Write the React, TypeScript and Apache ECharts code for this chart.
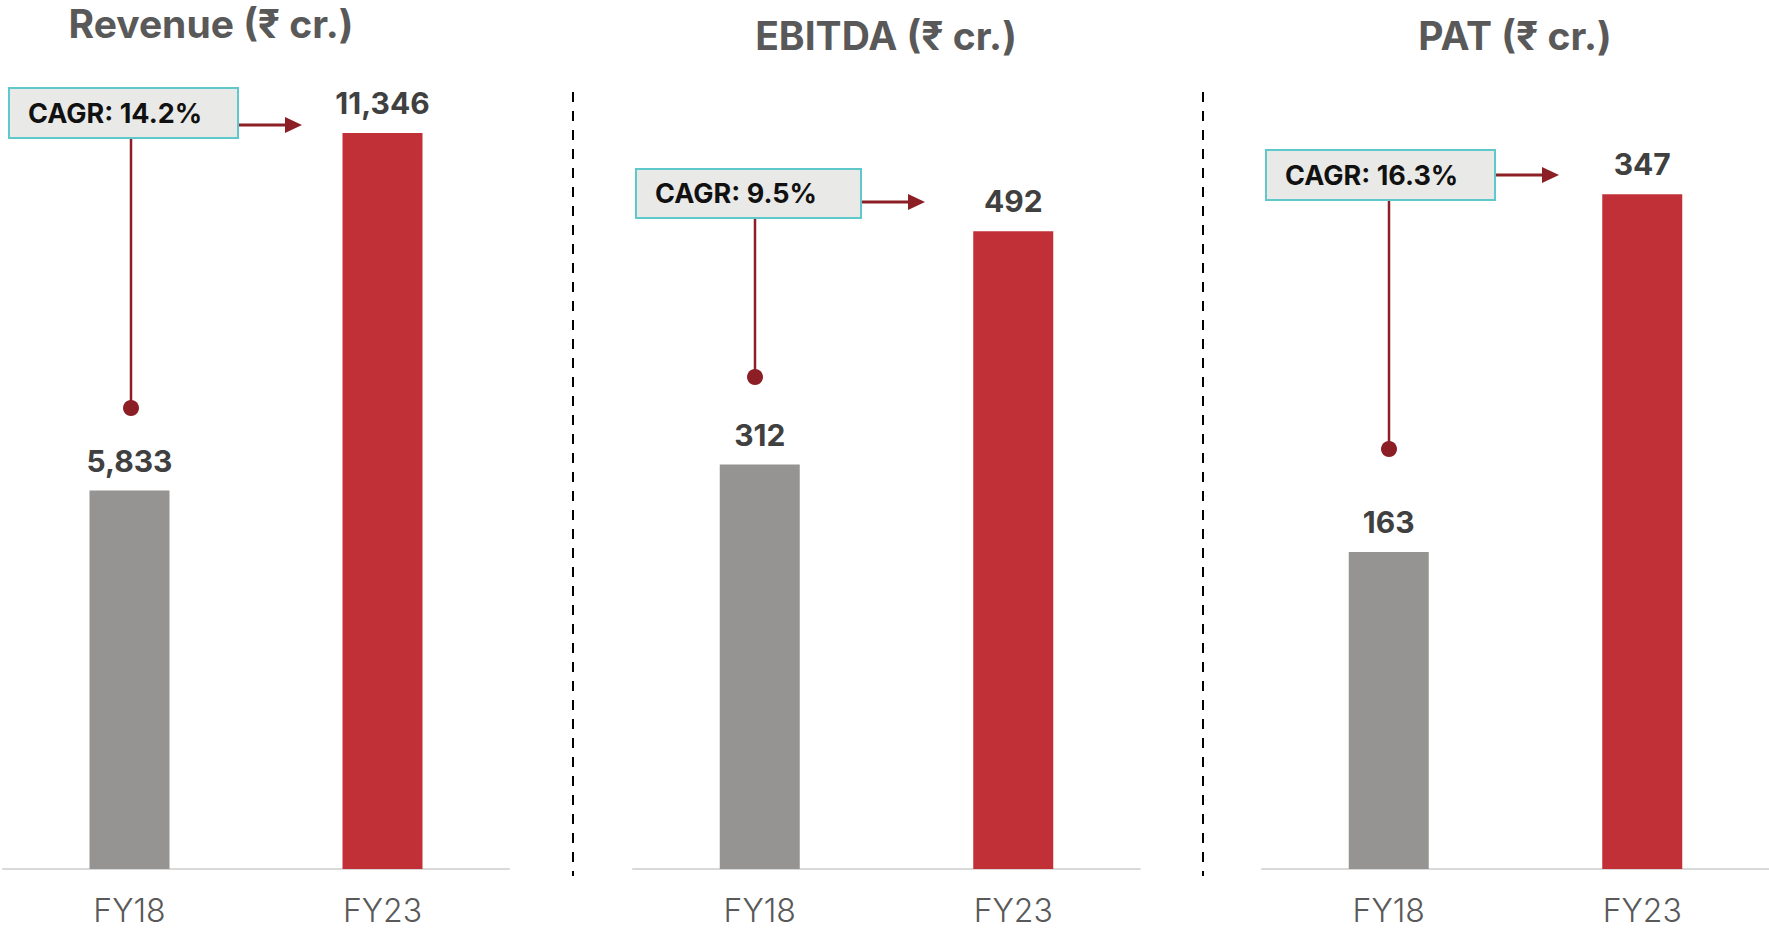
import React, { useEffect, useRef } from "react";
import * as echarts from "echarts";

// ---- data ----
const categories = ["FY18", "FY23"];
const revenueValues = [5833, 11346];
const ebitdaValues = [312, 492];
const patValues = [163, 347];
const panelTitles = ["Revenue (₹ cr.)", "EBITDA (₹ cr.)", "PAT (₹ cr.)"];
const cagrLabels = ["CAGR: 14.2%", "CAGR: 9.5%", "CAGR: 16.3%"];

// ---- styling / layout ----
const FONT = "Inter, 'Noto Sans', sans-serif";
const barColors = ["#959492", "#c13036"];
const arrowColor = "#8c1f25";
const gridLeft = [3, 633, 1262];
const gridWidth = [506, 507, 507];
const axisMax = [12470, 624, 416];
const titlePos = [
  { x: 211, y: 23 },
  { x: 886, y: 35 },
  { x: 1515, y: 35 },
];
const boxes = [
  { x: 9, y: 88, w: 229, h: 50, arrowY: 125, tipX: 302, lineX: 131, dotY: 408 },
  { x: 636, y: 169, w: 225, h: 49, arrowY: 202, tipX: 925, lineX: 755, dotY: 377 },
  { x: 1266, y: 150, w: 229, h: 50, arrowY: 175, tipX: 1559, lineX: 1389, dotY: 449 },
];
const dividerX = [573, 1203];

const seriesValues = [revenueValues, ebitdaValues, patValues];

export default function App() {
  const ref = useRef<HTMLDivElement>(null);

  useEffect(() => {
    if (!ref.current) return;
    const chart = echarts.init(ref.current, undefined, { renderer: "svg" });

    const graphics: any[] = [];
    panelTitles.forEach((t, i) => {
      graphics.push({
        type: "text",
        x: titlePos[i].x,
        y: titlePos[i].y,
        style: {
          text: t,
          align: "center",
          verticalAlign: "middle",
          fontFamily: FONT,
          fontSize: 39,
          fontWeight: "bold",
          fill: "#595959",
        },
      });
    });
    boxes.forEach((b, i) => {
      graphics.push({
        type: "line",
        shape: { x1: b.lineX, y1: b.y + b.h, x2: b.lineX, y2: b.dotY },
        style: { stroke: arrowColor, lineWidth: 2.5 },
      });
      graphics.push({
        type: "circle",
        shape: { cx: b.lineX, cy: b.dotY, r: 8 },
        style: { fill: arrowColor },
      });
      graphics.push({
        type: "line",
        shape: { x1: b.x + b.w, y1: b.arrowY, x2: b.tipX - 14, y2: b.arrowY },
        style: { stroke: arrowColor, lineWidth: 3 },
      });
      graphics.push({
        type: "polygon",
        shape: {
          points: [
            [b.tipX - 17, b.arrowY - 8],
            [b.tipX, b.arrowY],
            [b.tipX - 17, b.arrowY + 8],
          ],
        },
        style: { fill: arrowColor },
      });
      graphics.push({
        type: "rect",
        shape: { x: b.x, y: b.y, width: b.w, height: b.h },
        style: { fill: "#e9e9e7", stroke: "#5ec8cb", lineWidth: 2 },
      });
      graphics.push({
        type: "text",
        x: b.x + 19,
        y: b.y + b.h / 2,
        style: {
          text: cagrLabels[i],
          align: "left",
          verticalAlign: "middle",
          fontFamily: FONT,
          fontSize: 27,
          fontWeight: "bold",
          fill: "#111111",
        },
      });
    });
    dividerX.forEach((x) => {
      graphics.push({
        type: "line",
        shape: { x1: x, y1: 92, x2: x, y2: 876 },
        style: { stroke: "#000000", lineWidth: 2, lineDash: [10, 9] },
      });
    });

    const option: any = {
      animation: false,
      grid: gridLeft.map((l, i) => ({
        left: l,
        width: gridWidth[i],
        top: 60,
        bottom: 59,
        containLabel: false,
      })),
      xAxis: gridLeft.map((_, i) => ({
        type: "category",
        gridIndex: i,
        data: categories,
        axisLine: { show: true, lineStyle: { color: "#d9d9d9", width: 2 } },
        axisTick: { show: false },
        axisLabel: {
          fontFamily: FONT,
          fontSize: 32,
          lineHeight: 30,
          fontWeight: 300,
          color: "#595959",
          margin: 26,
        },
      })),
      yAxis: gridLeft.map((_, i) => ({
        type: "value",
        gridIndex: i,
        min: 0,
        max: axisMax[i],
        show: false,
        splitLine: { show: false },
      })),
      series: seriesValues.map((vals, i) => ({
        type: "bar",
        xAxisIndex: i,
        yAxisIndex: i,
        barWidth: 80,
        data: vals.map((v, j) => ({ value: v, itemStyle: { color: barColors[j] } })),
        label: {
          show: true,
          position: "top",
          distance: 15,
          fontFamily: FONT,
          fontSize: 30,
          fontWeight: "bold",
          color: "#404040",
          formatter: (p: any) => Number(p.value).toLocaleString("en-US"),
        },
      })),
      graphic: graphics,
    };
    chart.setOption(option);
    return () => chart.dispose();
  }, []);

  return (
    <div
      ref={ref}
      style={{ position: "fixed", left: 0, top: 0, width: 1769, height: 928, background: "#ffffff" }}
    />
  );
}
